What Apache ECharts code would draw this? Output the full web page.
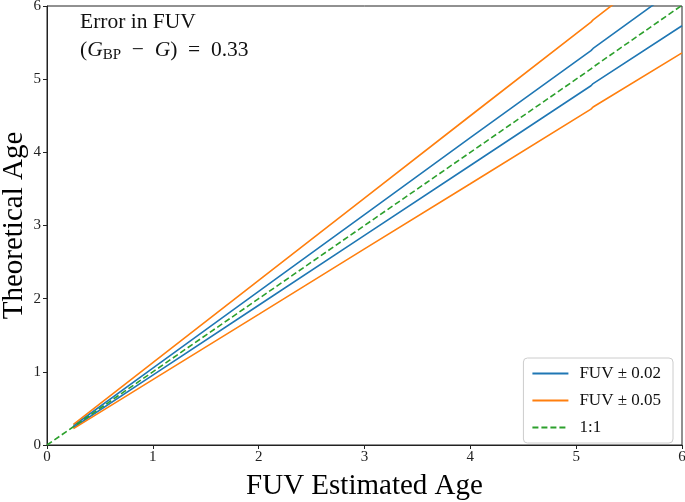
<!DOCTYPE html>
<html><head><meta charset="utf-8">
<script src="https://cdn.jsdelivr.net/npm/echarts@6/dist/echarts.min.js"></script>
<style>html,body{margin:0;padding:0;background:#fff}#c{width:685px;height:502px}</style>
</head><body><div id="c"></div>
<script>
const xTicks = [0, 1, 2, 3, 4, 5, 6];
const yTicks = [0, 1, 2, 3, 4, 5, 6];
const xs = [0.25, 1, 2, 3, 4, 5.14, 5.16, 6];
const blueUpper = [0.263, 1.05, 2.10, 3.15, 4.20, 5.39, 5.42, 6.30];
const blueLower = [0.239, 0.955, 1.91, 2.865, 3.82, 4.91, 4.94, 5.73];
const orangeUpper = [0.281, 1.125, 2.25, 3.375, 4.50, 5.78, 5.81, 6.75];
const orangeLower = [0.223, 0.893, 1.786, 2.68, 3.57, 4.59, 4.62, 5.36];
const oneX = [0, 1, 2, 3, 4, 5.14, 5.16, 6];
const oneY = [0, 1, 2, 3, 4, 5.14, 5.165, 6.01];
const legendNames = ['FUV ± 0.02', 'FUV ± 0.05', '1:1'];

const F = 'Liberation Serif, DejaVu Serif, serif';
const pair = (a, b) => a.map((v, i) => [v, b[i]]);
const chart = echarts.init(document.getElementById('c'));
const mk = (name, data, color, dashed) => ({
  name, type: 'line', data, symbol: 'none', showSymbol: false, clip: true,
  lineStyle: { color, width: 1.6, type: dashed ? [6, 3] : 'solid' },
  itemStyle: { color }, animation: false, z: dashed ? 5 : 3
});
chart.setOption({
  animation: false,
  grid: { left: 47, right: 3, top: 6, bottom: 57, outerBoundsMode: 'none', containLabel: false,
    show: true, borderColor: '#222', borderWidth: 1, backgroundColor: 'transparent' },
  xAxis: {
    type: 'value', min: 0, max: 6, interval: 1,
    name: 'FUV Estimated Age', nameLocation: 'middle', nameGap: 27, nameMoveOverlap: false,
    nameTextStyle: { fontFamily: F, fontSize: 29, color: '#000' },
    axisLine: { show: true, onZero: false, lineStyle: { color: '#222', width: 1 } },
    axisTick: { show: true, inside: false, length: 4, lineStyle: { color: '#222' } },
    axisLabel: { fontFamily: F, fontSize: 15, color: '#222', margin: 5 },
    splitLine: { show: false }
  },
  yAxis: {
    type: 'value', min: 0, max: 6, interval: 1,
    name: 'Theoretical Age', nameLocation: 'middle', nameGap: 18, nameMoveOverlap: false,
    nameTextStyle: { fontFamily: F, fontSize: 29, color: '#000' },
    axisLine: { show: true, onZero: false, lineStyle: { color: '#222', width: 1 } },
    axisTick: { show: true, inside: false, length: 4, lineStyle: { color: '#222' } },
    axisLabel: { fontFamily: F, fontSize: 15, color: '#222', margin: 6 },
    splitLine: { show: false }
  },
  legend: {
    data: legendNames, orient: 'vertical', right: 12, bottom: 59,
    backgroundColor: '#fff', borderColor: '#ccc', borderWidth: 1, borderRadius: 4,
    padding: [7, 12, 7, 8], itemGap: 10, itemWidth: 36, itemHeight: 14,
    itemStyle: { opacity: 0 },
    textStyle: { fontFamily: F, fontSize: 17, color: '#111', padding: [0, 0, 0, 6] }
  },
  graphic: [{
    type: 'text', left: 80, top: 8,
    style: {
      text: 'Error in FUV\n{p|(}{it|G}{sub|BP}{p|  −  }{it|G}{p|)  =  0.33}',
      font: '21.5px ' + F, fill: '#111', lineHeight: 28,
      rich: {
        p: { fontSize: 21.5, fontFamily: F, fill: '#111' },
        it: { fontSize: 21.5, fontFamily: F, fontStyle: 'italic', fill: '#111' },
        sub: { fontSize: 15, fontFamily: F, fill: '#111', padding: [10, 0, 0, 0] }
      }
    }
  }],
  series: [
    mk('FUV ± 0.02', pair(xs, blueUpper), '#1f77b4'),
    mk('FUV ± 0.02', pair(xs, blueLower), '#1f77b4'),
    mk('FUV ± 0.05', pair(xs, orangeUpper), '#ff7f0e'),
    mk('FUV ± 0.05', pair(xs, orangeLower), '#ff7f0e'),
    mk('1:1', pair(oneX, oneY), '#2ca02c', true)
  ]
});
</script></body></html>
